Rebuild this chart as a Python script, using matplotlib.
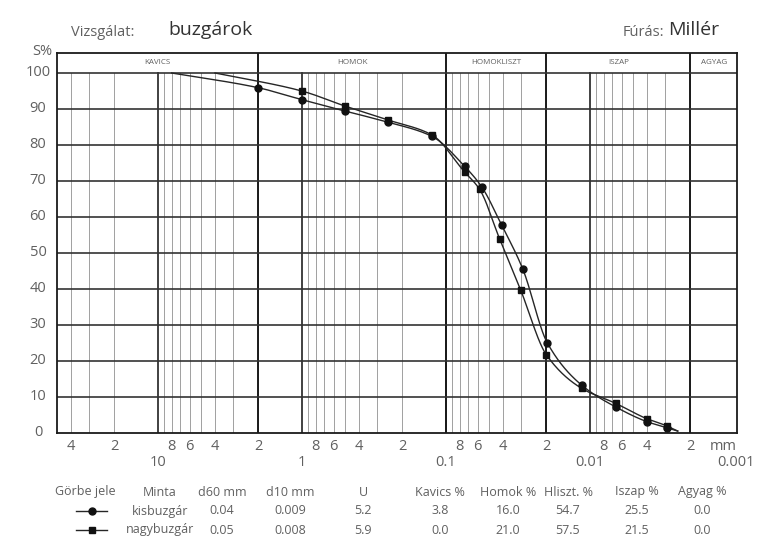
import numpy as np
import matplotlib
matplotlib.use("Agg")
import matplotlib.pyplot as plt
from matplotlib.lines import Line2D
import matplotlib.transforms as mtransforms

plt.rcParams['font.family'] = ['Open Sans', 'DejaVu Sans']

# ---- grain size curves (particle size in mm, percent passing) ----
kis_size = [8, 2, 1, 0.5, 0.25, 0.125, 0.0738, 0.0562, 0.0408, 0.0292,
            0.0197, 0.0114, 0.0066, 0.0040, 0.0029, 0.00245]
kis_pass = [100, 95.9, 92.6, 89.4, 86.3, 82.4, 74.0, 68.3, 57.6, 45.5,
            24.9, 13.2, 7.1, 3.0, 1.3, 0.4]
nagy_size = [4, 1, 0.5, 0.25, 0.125, 0.0738, 0.0581, 0.0422, 0.0301,
             0.0200, 0.0114, 0.0066, 0.0040, 0.0029, 0.00245]
nagy_pass = [100, 95.0, 90.8, 86.9, 82.8, 72.4, 67.6, 53.8, 39.5,
             21.6, 12.3, 8.1, 3.8, 1.8, 0.4]

# soil fraction bands (boundaries in mm)
fraction_names = ["KAVICS", "HOMOK", "HOMOKLISZT", "ISZAP", "AGYAG"]
fraction_bounds = [50, 2, 0.1, 0.02, 0.002, 0.00095]

# summary table
table_header = ["Görbe jele", "Minta", "d60 mm", "d10 mm", "U",
                "Kavics %", "Homok %", "Hliszt. %", "Iszap %", "Agyag %"]
table_rows = [
    ["kisbuzgár", "0.04", "0.009", "5.2", "3.8", "16.0", "54.7", "25.5", "0.0"],
    ["nagybuzgár", "0.05", "0.008", "5.9", "0.0", "21.0", "57.5", "21.5", "0.0"],
]

W, H = 761, 550
fx = lambda px: px / W
fy = lambda py: 1 - py / H

TXT = "#606060"
GRID_DARK = "#333333"

fig = plt.figure(figsize=(W / 100, H / 100), dpi=100)
fig.patch.set_facecolor("white")
ax_l, ax_r, ax_t, ax_b = 57, 737, 53, 432.5
ax = fig.add_axes([fx(ax_l), fy(ax_b), (ax_r - ax_l) / W, (ax_b - ax_t) / H])
px_per_pct = (ax_b - 73) / 100.0
ymax = 100 + (73 - ax_t) / px_per_pct
ax.set_xscale("log")
ax.set_xlim(fraction_bounds[0], fraction_bounds[-1])
ax.set_ylim(0, ymax)

# minor vertical lines (2..9 in each decade), major decades, fraction bounds
for dec in [0.001, 0.01, 0.1, 1, 10]:
    for m in range(2, 10):
        v = m * dec
        if v >= 50 or v <= 0.00095:
            continue
        ax.plot([v, v], [0, 100], color="#a0a0a0", lw=0.7, zorder=1)
for dec in [10, 1, 0.1, 0.01]:
    ax.plot([dec, dec], [0, 100], color=GRID_DARK, lw=1.3, zorder=2)
for b in fraction_bounds[1:-1]:
    ax.plot([b, b], [0, ymax], color="#1a1a1a", lw=1.4, zorder=2)
for yv in range(10, 101, 10):
    ax.axhline(yv, color=GRID_DARK, lw=1.2, zorder=2)

for s in ax.spines.values():
    s.set_color("#1a1a1a")
    s.set_linewidth(1.3)

# fraction names in the header strip
for i, name in enumerate(fraction_names):
    lo, hi = fraction_bounds[i], fraction_bounds[i + 1]
    xc = np.sqrt(lo * hi)
    ax.text(xc, (100 + ymax) / 2, name, ha="center", va="center",
            fontsize=5.8, color=TXT)

# y axis labels, centred in the left margin
ax.set_xticks([])
ax.set_xticks([], minor=True)
ax.set_yticks([])
ytrans = mtransforms.blended_transform_factory(fig.transFigure, ax.transData)
for yv in range(0, 101, 10):
    ax.text(fx(38), yv, str(yv), transform=ytrans, ha="center", va="center",
            fontsize=10.5, color=TXT)

# x tick labels: digits and decade values
trans = mtransforms.blended_transform_factory(ax.transData, ax.transAxes)
off1 = mtransforms.offset_copy(trans, fig=fig, x=0, y=-14.5, units="dots")
off2 = mtransforms.offset_copy(trans, fig=fig, x=0, y=-30.5, units="dots")
for dec in [0.001, 0.01, 0.1, 1, 10]:
    for m in [8, 6, 4, 2]:
        v = m * dec
        if v >= 50:
            continue
        ax.text(v, 0, str(m), transform=off1, ha="center", va="center",
                fontsize=10.5, color=TXT)
for dec, lab in [(10, "10"), (1, "1"), (0.1, "0.1"), (0.01, "0.01")]:
    ax.text(dec, 0, lab, transform=off2, ha="center", va="center",
            fontsize=10.5, color=TXT)
fig.text(fx(736), fy(463), "0.001", ha="center", va="center", fontsize=10.5, color=TXT)
fig.text(fx(723), fy(447), "mm", ha="center", va="center", fontsize=10.5, color=TXT)


def pchip(x, y, xn):
    x = np.asarray(x, float)
    y = np.asarray(y, float)
    h = np.diff(x)
    d = np.diff(y) / h
    n = len(x)
    m = np.zeros(n)
    for k in range(1, n - 1):
        if d[k - 1] * d[k] > 0:
            w1 = 2 * h[k] + h[k - 1]
            w2 = h[k] + 2 * h[k - 1]
            m[k] = (w1 + w2) / (w1 / d[k - 1] + w2 / d[k])
    m[0] = d[0]
    m[-1] = d[-1]
    idx = np.clip(np.searchsorted(x, xn) - 1, 0, n - 2)
    t = (xn - x[idx]) / h[idx]
    h00 = 2 * t**3 - 3 * t**2 + 1
    h10 = t**3 - 2 * t**2 + t
    h01 = -2 * t**3 + 3 * t**2
    h11 = t**3 - t**2
    return (h00 * y[idx] + h10 * h[idx] * m[idx] + h01 * y[idx + 1]
            + h11 * h[idx] * m[idx + 1])


def draw_curve(sizes, passing, marker, ms):
    lx = np.log10(sizes)[::-1]
    py = np.asarray(passing)[::-1]
    xs = np.linspace(lx[0], lx[-1], 600)
    ax.plot(10**xs, pchip(lx, py, xs), color="#262626", lw=1.0, zorder=4)
    ax.plot(sizes[1:-1], passing[1:-1], linestyle="none", marker=marker,
            ms=ms, color="#111111", zorder=5)


draw_curve(kis_size, kis_pass, "o", 5)
draw_curve(nagy_size, nagy_pass, "s", 5)

# headings
fig.text(fx(103), fy(32), "Vizsgálat:", ha="center", va="center", fontsize=10.5, color=TXT)
fig.text(fx(210), fy(30), "buzgárok", ha="center", va="center", fontsize=14, color="#333333")
fig.text(fx(664), fy(32), "Fúrás:", ha="right", va="center", fontsize=10.5, color=TXT)
fig.text(fx(668), fy(30), "Millér", ha="left", va="center", fontsize=14, color="#333333")
fig.text(fx(42), fy(52), "S%", ha="center", va="center", fontsize=10.5, color=TXT)

# summary table
col_x = [85, 160, 222, 290, 363, 440, 508, 568, 637, 702]
row_y = [492, 511, 530]
for xc, h in zip(col_x, table_header):
    fig.text(fx(xc), fy(row_y[0]), h, ha="center", va="center", fontsize=9, color=TXT)
for r, (row, mk) in enumerate(zip(table_rows, ["o", "s"])):
    yy = fy(row_y[r + 1])
    fig.add_artist(Line2D([fx(76), fx(107)], [yy, yy], color="#262626", lw=1.0))
    fig.add_artist(Line2D([fx(91.5)], [yy], marker=mk, ms=5, color="#111111",
                          linestyle="none"))
    for xc, val in zip(col_x[1:], row):
        fig.text(fx(xc), yy, val, ha="center", va="center", fontsize=9, color=TXT)

fig.savefig("out.png", dpi=100)
